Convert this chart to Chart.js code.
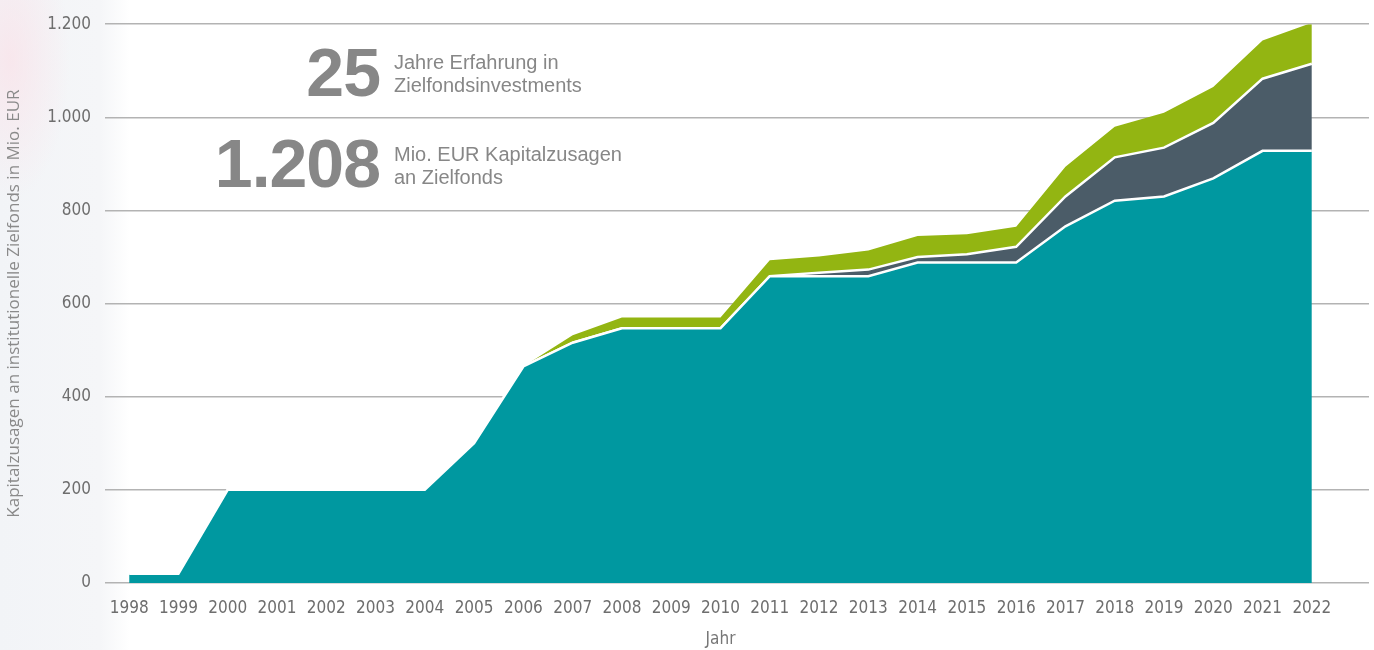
<!DOCTYPE html>
<html lang="de">
<head>
<meta charset="utf-8">
<title>Kapitalzusagen an Zielfonds</title>
<script src="https://cdn.jsdelivr.net/npm/chart.js@4/dist/chart.umd.min.js"></script>
<style>
  html, body { margin: 0; padding: 0; }
  body {
    width: 1374px; height: 650px; overflow: hidden;
    background:
      radial-gradient(ellipse 60px 140px at 10px 60px, rgba(250, 225, 232, 0.7), rgba(255,255,255,0)),
      linear-gradient(to right, #f2f4f7 0, #f5f6f8 100px, #ffffff 130px);
  }
  .wrap { position: relative; width: 1374px; height: 650px; }
  .note { position: absolute; color: #878787; font-family: "Liberation Sans", Arial, sans-serif; }
  .big { font-weight: bold; font-size: 68px; line-height: 1; text-align: right; width: 200px; left: 180px; letter-spacing: -1px; }
  .txt { font-size: 20px; line-height: 22.5px; left: 394px; }
</style>
</head>
<body>
<div class="wrap">
  <canvas id="kapitalChart"></canvas>
  <div class="note big" style="top:38px;">25</div>
  <div class="note txt" style="top:51px;">Jahre Erfahrung in<br>Zielfondsinvestments</div>
  <div class="note big" style="top:129px;">1.208</div>
  <div class="note txt" style="top:143px;">Mio. EUR Kapitalzusagen<br>an Zielfonds</div>
</div>
<script>
// Jahre (x-Achse)
const jahre = [1998, 1999, 2000, 2001, 2002, 2003, 2004, 2005, 2006, 2007, 2008, 2009, 2010,
               2011, 2012, 2013, 2014, 2015, 2016, 2017, 2018, 2019, 2020, 2021, 2022];

// Kapitalzusagen in Mio. EUR, gestapelt
const serieTeal = [20, 20, 200, 200, 200, 200, 200, 300, 465, 516, 547, 547, 547,
                   659, 659, 659, 688, 688, 688, 766, 821, 830, 869, 928, 928];
const serieGrau = [0, 0, 0, 0, 0, 0, 0, 0, 0, 0, 0, 0, 0,
                   0, 7, 14, 12, 18, 34, 64, 93, 105, 119, 155, 187];
const serieGruen = [0, 0, 0, 0, 0, 0, 0, 0, 0, 16, 23, 23, 23,
                    34, 35, 41, 45, 43, 43, 64, 66, 75, 77, 82, 88];

// y-Achse
const yTicks = [0, 200, 400, 600, 800, 1000, 1200];

const tickFamily = '"Liberation Sans Narrow", "DejaVu Sans Condensed", sans-serif';
const tickFont = { family: tickFamily, size: 17 };

function punkte(werte) {
    return werte.map(function(v, i) { return { x: jahre[i], y: v }; });
}

// "Jahr" mittig unter den Jahreszahlen
const achsenTitelX = {
    id: 'achsenTitelX',
    afterDraw: function(chart) {
        const sx = chart.scales.x;
        const mitte = (sx.getPixelForValue(jahre[0]) + sx.getPixelForValue(jahre[jahre.length - 1])) / 2;
        const ctx = chart.ctx;
        ctx.save();
        ctx.font = '17px ' + tickFamily;
        ctx.fillStyle = '#777777';
        ctx.textAlign = 'center';
        ctx.textBaseline = 'middle';
        ctx.fillText('Jahr', mitte, 640);
        ctx.restore();
    }
};

const canvas = document.getElementById('kapitalChart');
canvas.width = 1374;
canvas.height = 650;

new Chart(canvas.getContext('2d'), {
    type: 'line',
    data: {
        datasets: [
            {
                label: 'Teal',
                data: punkte(serieTeal),
                backgroundColor: '#0098a0',
                borderColor: '#ffffff',
                borderWidth: 2.5,
                fill: 'origin',
                pointRadius: 0,
                tension: 0
            },
            {
                label: 'Grau',
                data: punkte(serieGrau),
                backgroundColor: '#4b5c68',
                borderColor: '#ffffff',
                borderWidth: 2.5,
                fill: '-1',
                pointRadius: 0,
                tension: 0
            },
            {
                label: 'Gruen',
                data: punkte(serieGruen),
                backgroundColor: '#93b512',
                borderColor: '#93b512',
                borderWidth: 0,
                fill: '-1',
                pointRadius: 0,
                tension: 0
            }
        ]
    },
    options: {
        responsive: false,
        animation: false,
        layout: { padding: { top: 22, right: 5, left: 0, bottom: 0 } },
        plugins: {
            legend: { display: false },
            tooltip: { enabled: false }
        },
        scales: {
            x: {
                type: 'linear',
                min: 1997.51,
                max: 2023.16,
                grid: { display: false },
                border: { display: false },
                afterBuildTicks: function(scale) {
                    scale.ticks = jahre.map(function(j) { return { value: j }; });
                },
                afterFit: function(scale) { scale.height = 67; },
                ticks: {
                    autoSkip: false,
                    maxRotation: 0,
                    padding: 7,
                    color: '#6e6e6e',
                    font: tickFont,
                    callback: function(value) { return String(value); }
                }
            },
            y: {
                stacked: true,
                min: 0,
                max: 1200,
                border: { display: false },
                grid: { color: '#b3b3b3', lineWidth: 1.5, drawTicks: false },
                afterBuildTicks: function(scale) {
                    scale.ticks = yTicks.map(function(v) { return { value: v }; });
                },
                afterFit: function(scale) { scale.width = 105; },
                ticks: {
                    padding: 14,
                    color: '#6e6e6e',
                    font: tickFont,
                    callback: function(value) { return value.toLocaleString('de-DE'); }
                },
                title: {
                    display: true,
                    text: 'Kapitalzusagen an institutionelle Zielfonds in Mio. EUR',
                    color: '#8a8a8a',
                    font: { family: '"Open Sans", "Noto Sans", sans-serif', size: 17, weight: 'normal' },
                    padding: { top: 4, bottom: 0 }
                }
            }
        }
    },
    plugins: [achsenTitelX]
});
</script>
</body>
</html>
